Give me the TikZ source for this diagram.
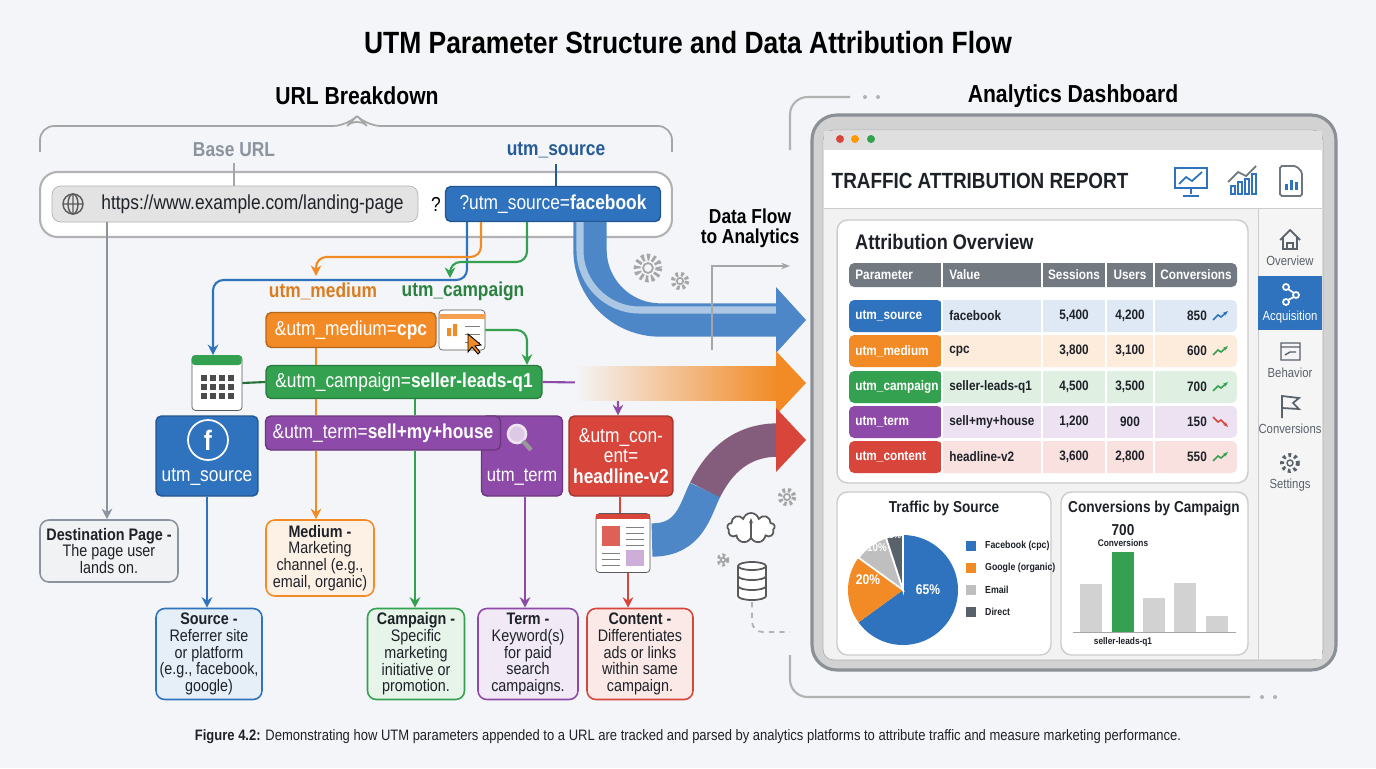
\documentclass[tikz,border=0pt]{standalone}
\usepackage{fontspec}
\setmainfont{Liberation Sans}[FakeStretch=0.86]
\usetikzlibrary{arrows.meta,positioning,shapes.symbols}
\definecolor{cblue}{HTML}{2F72BD}
\definecolor{corange}{HTML}{F28A25}
\definecolor{cgreen}{HTML}{34A150}
\definecolor{cpurple}{HTML}{8E4AA8}
\definecolor{cred}{HTML}{D8453B}
\definecolor{cgray}{HTML}{8A939E}
\definecolor{cdark}{HTML}{59616B}
\definecolor{ctext}{HTML}{1E2228}
\definecolor{cbg}{HTML}{F3F5F8}
\newcommand{\fsz}[1]{\fontsize{#1}{#1}\selectfont}
\begin{document}
\begin{tikzpicture}[x=0.02cm,y=-0.02cm,
  box/.style={draw=#1!75!black,fill=#1,rounded corners=3pt,text=white,line width=0.8pt,align=center,inner sep=2pt},
  desc/.style={draw=#1,fill=#1!12,rounded corners=5pt,line width=0.9pt,align=center,text=ctext,font=\fsz{9.5},inner sep=2pt},
  link/.style={draw=#1,line width=1.2pt,rounded corners=6pt,-{Stealth[length=6pt,width=6pt]}},
  lab/.style={font=\bfseries\fsz{11.5},text=#1},
  panel/.style={draw=gray!40,fill=white,rounded corners=6pt,line width=0.8pt},
  cell/.style={minimum height=0.64cm,inner sep=0pt,font=\bfseries\fsz{7.8},text=ctext},
  gear/.style={draw=gray!70,line width=2pt,dash pattern=on 1.6pt off 1.6pt}
]
\useasboundingbox[fill=cbg] (0,0) rectangle (1376,768);
% titles
\node (title) at (688,43) {\bfseries\fsz{17.5}UTM Parameter Structure and Data Attribution Flow};
\node (urltitle) at (357,96) {\bfseries\fsz{14}URL Breakdown};
\node (dashtitle) at (1073,96) {\bfseries\fsz{14}Analytics Dashboard};
\draw[gray!70,line width=1pt,rounded corners=8pt] (40,152) |- (347,126) -- (357,116) -- (367,126) -| (672,152);
\node[lab=cgray] (baselab) at (234,150) {Base URL};
\node[lab=cblue!80!black] (srclab) at (556,150) {utm\_source};
% url bar
\node[draw=gray!60,fill=white,rounded corners=10pt,line width=1.2pt,minimum width=12.64cm,minimum height=1.3cm] (urlbar) at (356,204.5) {};
\node[draw=gray!60,fill=gray!22,rounded corners=5pt,minimum width=7.32cm,minimum height=0.72cm,font=\fsz{11.5},text=ctext] (urlbase) at (235,204) {\hspace{0.7cm}https://www.example.com/landing-page};
\draw[gray!70!black,line width=0.8pt] (73,204) circle[radius=10] (63,204) -- (83,204) (73,194) -- (73,214);
\draw[gray!70!black,line width=0.8pt] (73,204) ellipse[x radius=5,y radius=10];
\node[font=\fsz{11.5}] (qmark) at (436,204) {?};
\node[box=cblue,minimum width=4.3cm,minimum height=0.7cm,font=\fsz{11.5}] (urlsrc) at (553,204) {?utm\_source=\textbf{facebook}};
\draw[gray!70,line width=1.2pt] (baselab) -- (urlbase.north -| baselab);
\draw[cblue!80!black,line width=1.2pt] (srclab) -- (urlsrc.north -| srclab);
% parameter boxes
\node[lab=corange!90!black] (medlab) at (323,291) {utm\_medium};
\node[lab=cgreen!80!black] (camplab) at (463,291) {utm\_campaign};
\node[box=corange,minimum width=3.4cm,minimum height=0.7cm,font=\fsz{11.5}] (medbox) at (351,330) {\&utm\_medium=\textbf{cpc}};
\node[box=cgreen,minimum width=5.52cm,minimum height=0.66cm,font=\fsz{11.5}] (campbox) at (404,382) {\&utm\_campaign=\textbf{seller-leads-q1}};
\node[box=cpurple,minimum width=1.62cm,minimum height=1.6cm,font=\fsz{11},text depth=0pt] (termtall) at (522,456) {\\[1.6em]utm\_term};
\node[box=cpurple,minimum width=4.7cm,minimum height=0.68cm,font=\fsz{11.5}] (termbox) at (383,433) {\&utm\_term=\textbf{sell+my+house}};
\node[box=cred,minimum width=2.08cm,minimum height=1.6cm,font=\fsz{11.5}] (contbox) at (621,456) {\&utm\_con-\\ent=\\\textbf{headline-v2}};
\node[box=cblue,minimum width=2.04cm,minimum height=1.6cm,font=\fsz{11.5}] (srcbox) at (207,456) {\\[1.7em]utm\_source};
% icons
\node[circle,fill=cblue,draw=white,line width=1pt,minimum size=0.8cm,font=\bfseries\fsz{16},text=white,inner sep=0pt] (fbicon) at (208,440) {f};
\draw[white!85!cpurple,line width=1.5pt,fill=cpurple!30] (517,434) circle[radius=9];
\draw[gray!80,line width=2.5pt] (523,441) -- (531,450);
\node[draw=gray!70!black,fill=white,rounded corners=2pt,minimum width=1cm,minimum height=1.1cm] (cal) at (217,383) {};
\fill[cgreen,rounded corners=2pt] (cal.north west) rectangle ++(50,10);
\foreach \i in {0,1,2} \foreach \j in {0,1,2,3} \fill[gray!60!black] (201+\j*9,375+\i*9) rectangle ++(6,6);
\node[draw=gray!70!black,fill=white,rounded corners=2pt,minimum width=0.92cm,minimum height=0.8cm] (chart) at (462,330) {};
\fill[corange!80] (439,314) rectangle (485,319);
\foreach \yy in {326,334,342} \draw[gray] (465,\yy) -- (480,\yy);
\fill[corange] (447,336) rectangle ++(4,-8) (453,336) rectangle ++(4,-12);
\fill[corange,draw=black,line width=0.5pt] (468,334) -- (468,352) -- (472,347) -- (478,354) -- (480,352) -- (475,346) -- (481,345) -- cycle;
\node[draw=gray!70!black,fill=white,rounded corners=2pt,minimum width=1.08cm,minimum height=1.18cm] (page) at (623,543) {};
\fill[cred] (596,514) rectangle (650,519);
\fill[cred!85] (602,526) rectangle (620,546);
\fill[cpurple!45] (626,550) rectangle (644,566);
\foreach \yy in {527,533,539,545} \draw[gray] (626,\yy) -- (644,\yy);
\foreach \yy in {553,559,565} \draw[gray] (602,\yy) -- (620,\yy);
% descriptions
\node[desc=cgray,minimum width=2.76cm,minimum height=1.24cm] (destdesc) at (109,551) {\textbf{Destination Page -}\\The page user\\lands on.};
\node[desc=cblue,minimum width=2.12cm,minimum height=1.82cm] (srcdesc) at (209,654) {\textbf{Source -}\\Referrer site\\or platform\\(e.g., facebook,\\google)};
\node[desc=corange,minimum width=2.16cm,minimum height=1.52cm] (meddesc) at (320,558) {\textbf{Medium -}\\Marketing\\channel (e.g.,\\email, organic)};
\node[desc=cgreen,minimum width=1.94cm,minimum height=1.82cm] (campdesc) at (416,654) {\textbf{Campaign -}\\Specific\\marketing\\initiative or\\promotion.};
\node[desc=cpurple,minimum width=2.0cm,minimum height=1.82cm] (termdesc) at (528,654) {\textbf{Term -}\\Keyword(s)\\for paid\\search\\campaigns.};
\node[desc=cred,minimum width=2.12cm,minimum height=1.82cm] (contdesc) at (640,654) {\textbf{Content -}\\Differentiates\\ads or links\\within same\\campaign.};
% connectors
\draw[link=cgray] (urlbase.south -| 107,0) -- (destdesc.north -| 107,0);
\draw[link=cblue] (urlsrc.south -| 467,0) -- (467,280) -- (213,280) -- (cal.north -| 213,0);
\draw[link=corange] (urlsrc.south -| 481,0) -- (481,257) -- (316,257) -- (316,276);
\draw[link=cgreen] (urlsrc.south -| 527,0) -- (527,262) -- (450,262) -- (450,278);
\draw[link=cgreen] (chart.east) -- (527,330) -- (campbox.north -| 527,0);
\draw[link=cpurple] (campbox.east) -- (618,383) -- (contbox.north -| 618,0);
\draw[cgreen!70!black,line width=1.2pt] (cal.east) -- (campbox.west);
\draw[corange,line width=1.2pt] (medbox.south -| 316,0) -- (campbox.north -| 316,0);
\draw[corange,line width=1.2pt] (campbox.south -| 316,0) -- (termbox.north -| 316,0);
\draw[link=corange] (termbox.south -| 316,0) -- (meddesc.north -| 316,0);
\draw[cgreen,line width=1.2pt] (campbox.south -| 415,0) -- (termbox.north -| 415,0);
\draw[link=cgreen] (termbox.south -| 415,0) -- (campdesc.north -| 415,0);
\draw[link=cblue] (srcbox.south) -- (srcdesc.north -| srcbox.south);
\draw[link=cpurple] (termtall.south -| 525,0) -- (termdesc.north -| 525,0);
\draw[cred,line width=1.2pt] (contbox.south -| 620,0) -- (page.north -| 620,0);
\draw[link=cred] (page.south -| 628,0) -- (contdesc.north -| 628,0);
% flow arrows
\draw[cblue!85,line width=19pt,rounded corners=40pt] (590,222) -- (590,320) -- (778,320);
\draw[cblue!40,line width=4pt,rounded corners=34pt] (580,222) -- (580,310) -- (778,310);
\fill[cblue!85] (776,287) -- (806,320) -- (776,353) -- cycle;
\shade[left color=cbg,right color=corange] (575,366) rectangle (778,400);
\fill[corange] (776,351) -- (806,383) -- (776,415) -- cycle;
\draw[cred!50!cblue,line width=19pt] (705,490) .. controls (715,470) and (735,440) .. (778,440);
\draw[cblue!85,line width=19pt] (652,540) .. controls (690,540) and (695,510) .. (705,490);
\fill[cred] (776,408) -- (806,440) -- (776,472) -- cycle;
\node[font=\bfseries\fsz{11.5},align=center] (flowlab) at (750,228) {Data Flow\\to Analytics};
\draw[gray!70,line width=1pt,-{Stealth[length=5pt]}] (712,350) |- (790,266);
\foreach \xx/\yy/\r in {648/268/11,680/281/7,787/497/7,723/560/5} {
  \draw[gear,line width=0.35*\r pt] (\xx,\yy) circle[radius=\r];
  \draw[gray!70,line width=1pt] (\xx,\yy) circle[radius=0.45*\r];
}
\node[cloud,cloud puffs=9,aspect=1.7,draw=gray!70!black,fill=white,line width=1pt,minimum width=0.95cm,minimum height=0.6cm] (cloud) at (751,528) {};
\draw[gray!70!black,line width=1pt,-{Stealth[length=3pt]}] (751,538) -- (751,518);
\draw[gray!70!black,line width=1pt,fill=white] (738,566) -- (738,596) arc[start angle=180,end angle=0,x radius=14,y radius=4] -- (766,566);
\draw[gray!70!black,line width=1pt,fill=white] (752,566) ellipse[x radius=14,y radius=4];
\draw[gray!70!black,line width=1pt] (738,576) arc[start angle=180,end angle=0,x radius=14,y radius=4] (738,586) arc[start angle=180,end angle=0,x radius=14,y radius=4];
\draw[gray!60,line width=1pt,dashed,rounded corners=6pt] (752,602) |- (790,632);
\draw[gray!60,line width=1.2pt,rounded corners=10pt] (790,150) |- (850,97);
\draw[gray!60,line width=1.2pt,rounded corners=10pt] (790,655) |- (1250,697);
\foreach \xx in {865,878} \fill[gray!60] (\xx,97) circle[radius=2];
\foreach \xx in {1262,1275} \fill[gray!60] (\xx,697) circle[radius=2];
% dashboard frame
\node[draw=cdark!70,fill=gray!35,rounded corners=14pt,line width=1.8pt,minimum width=10.48cm,minimum height=11.1cm] (frame) at (1074,392.5) {};
\node[draw=gray!60,fill=gray!10,rounded corners=6pt,minimum width=10cm,minimum height=10.6cm] (win) at (1073,395) {};
\fill[gray!25] ([xshift=1pt,yshift=-1pt]win.north west) rectangle (1322,150);
\fill[cred] (840,139) circle[radius=4];
\fill[orange!80!yellow] (855,139) circle[radius=4];
\fill[cgreen] (871,139) circle[radius=4];
\fill[white] (824,150) rectangle (1322,208);
\draw[gray!40] (824,208) -- (1322,208);
\node[font=\bfseries\fsz{12.5},text=ctext] (reptitle) at (980,181) {TRAFFIC ATTRIBUTION REPORT};
\draw[cblue,line width=1pt] (1175,168) rectangle (1207,188) (1191,188) -- (1191,194) (1183,196) -- (1199,196);
\draw[cblue,line width=1pt] (1179,184) -- (1186,177) -- (1192,181) -- (1202,172);
\draw[cgray!80!black,line width=1pt] (1228,182) -- (1238,172) -- (1246,176) -- (1256,166);
\foreach \i/\h in {0/8,1/12,2/15,3/20} \draw[cblue,line width=1pt] (1231+\i*7,194) rectangle ++(4,-\h);
\draw[cgray!80!black,line width=1pt,rounded corners=1pt] (1280,166) -- (1296,166) -- (1302,172) -- (1302,196) -- (1280,196) -- cycle;
\foreach \i/\h in {0/6,1/10,2/8} \fill[cblue] (1285+\i*5,190) rectangle ++(3,-\h);
% sidebar
\fill[gray!8] (1258,209) rectangle (1322,659);
\draw[gray!40] (1258,209) -- (1258,659);
\fill[cblue] (1258,276) rectangle (1322,330);
\node[font=\fsz{7.5},text=cdark] (sbover) at (1290,261) {Overview};
\draw[cdark,line width=1pt] (1280,240) -- (1290,230) -- (1300,240) (1283,237) |- (1297,249) -- (1297,237) (1287,249) -- (1287,243) -- (1293,243) -- (1293,249);
\node[font=\fsz{7.5},text=white] (sbacq) at (1290,317) {Acquisition};
\draw[white,line width=1pt] (1286,287) circle[radius=3] (1296,295) circle[radius=3] (1286,302) circle[radius=3] (1288,289) -- (1294,293) (1294,297) -- (1288,300);
\node[font=\fsz{7.5},text=cdark] (sbbeh) at (1290,373) {Behavior};
\draw[cdark,line width=0.8pt] (1281,343) rectangle (1300,360) (1281,347) -- (1300,347) (1285,355) -- (1290,352) -- (1296,352);
\node[font=\fsz{7.5},text=cdark] (sbconv) at (1290,429) {Conversions};
\draw[cdark,line width=1pt] (1282,418) -- (1282,396) -- (1299,398) -- (1293,403) -- (1299,409) -- (1282,408);
\node[font=\fsz{7.5},text=cdark] (sbset) at (1290,485) {Settings};
\draw[cdark,line width=2.2pt,dash pattern=on 1.6pt off 1.8pt] (1290,463) circle[radius=8];
\draw[cdark,line width=0.8pt] (1290,463) circle[radius=3];
% attribution panel
\node[panel,minimum width=8.22cm,minimum height=5.26cm] (attpanel) at (1042.5,351.5) {};
\node[font=\bfseries\fsz{12},text=ctext,anchor=west] (atttitle) at (849,242) {Attribution Overview};
\fill[cdark!85,rounded corners=3pt] (849,263) rectangle (1237,287);
\foreach \xx in {942,1042,1106,1154} \draw[white,line width=1.2pt] (\xx,263) -- (\xx,287);
\foreach \t/\xx in {Parameter/855,Value/949} \node[cell,text=white,anchor=west] at (\xx,275) {\t};
\foreach \t/\xx in {Sessions/1074,Users/1130,Conversions/1196} \node[cell,text=white] at (\xx,275) {\t};
\foreach \p/\v/\s/\u/\c/\col/\y in {
  utm\_source/facebook/{5,400}/{4,200}/850/cblue/316,
  utm\_medium/cpc/{3,800}/{3,100}/600/corange/351,
  utm\_campaign/seller-leads-q1/{4,500}/{3,500}/700/cgreen/387,
  utm\_term/sell+my+house/{1,200}/900/150/cpurple/422,
  utm\_content/headline-v2/{3,600}/{2,800}/550/cred/457} {
  \fill[\col!16,rounded corners=3pt] (849,\y-16) rectangle (1237,\y+16);
  \fill[\col,rounded corners=3pt] (849,\y-16) rectangle (942,\y+16);
  \foreach \xx in {942,1042,1106,1154} \draw[white,line width=1.2pt] (\xx,\y-16) -- (\xx,\y+16);
  \node[cell,text=white,anchor=west] at (855,\y) {\p};
  \node[cell,anchor=west] at (949,\y) {\v};
  \node[cell] at (1074,\y) {\s};
  \node[cell] at (1130,\y) {\u};
  \node[cell] at (1197,\y) {\c};
}
\foreach \y/\tr in {316/cblue,351/cgreen,387/cgreen,457/cgreen} \draw[\tr,line width=0.9pt,-{Stealth[length=3pt]}] (1213,\y+4) -- (1218,\y-1) -- (1221,\y+1) -- (1228,\y-5);
\draw[cred,line width=0.9pt,-{Stealth[length=3pt]}] (1213,417) -- (1218,422) -- (1221,420) -- (1228,427);
% traffic panel
\node[panel,minimum width=4.28cm,minimum height=3.26cm] (trafpanel) at (944,573.5) {};
\node[font=\bfseries\fsz{9},text=ctext] (traftitle) at (944,508) {Traffic by Source};
\fill[cblue] (903,590) -- ++(-90:55) arc[start angle=-90,end angle=144,radius=55] -- cycle;
\fill[corange] (903,590) -- ++(144:55) arc[start angle=144,end angle=216,radius=55] -- cycle;
\draw[white,line width=1pt,fill=gray!50] (903,590) -- ++(216:55) arc[start angle=216,end angle=252,radius=55] -- cycle;
\draw[white,line width=1pt,fill=cdark] (903,590) -- ++(252:55) arc[start angle=252,end angle=270,radius=55] -- cycle;
\node[font=\bfseries\fsz{8},text=white] at (928,590) {65\%};
\node[font=\bfseries\fsz{8},text=white] at (868,580) {20\%};
\node[font=\bfseries\fsz{6.5},text=white] at (877,548) {10\%};
\node[font=\bfseries\fsz{5.5},text=white] at (895,535) {5\%};
\foreach \col/\t/\y in {cblue/Facebook (cpc)/546,corange/Google (organic)/568,gray!50/Email/590,cdark/Direct/612} {
  \fill[\col] (966,\y-5) rectangle (976,\y+5);
  \node[font=\bfseries\fsz{5.8},text=ctext,anchor=west] at (979,\y) {\t};
}
% conversions panel
\node[panel,minimum width=3.74cm,minimum height=3.26cm] (convpanel) at (1154.5,573.5) {};
\node[font=\bfseries\fsz{9},text=ctext] (convtitle) at (1154,508) {Conversions by Campaign};
\foreach \xa/\top/\col in {1080/584/gray!35,1112/552/cgreen,1143/598/gray!35,1174/583/gray!35,1206/616/gray!35}
  \fill[\col] (\xa,632) rectangle (\xa+22,\top);
\draw[gray!70] (1073,632) -- (1236,632);
\node[font=\bfseries\fsz{9},text=ctext] (convnum) at (1123,530) {700};
\node[font=\bfseries\fsz{5.5},text=ctext] (convword) at (1123,543) {Conversions};
\node[font=\bfseries\fsz{5.5},text=ctext] (convcamp) at (1123,642) {seller-leads-q1};
% caption
\node[font=\fsz{8.6},text=ctext] (caption) at (688,737) {\textbf{Figure 4.2:} Demonstrating how UTM parameters appended to a URL are tracked and parsed by analytics platforms to attribute traffic and measure marketing performance.};
\end{tikzpicture}
\end{document}
